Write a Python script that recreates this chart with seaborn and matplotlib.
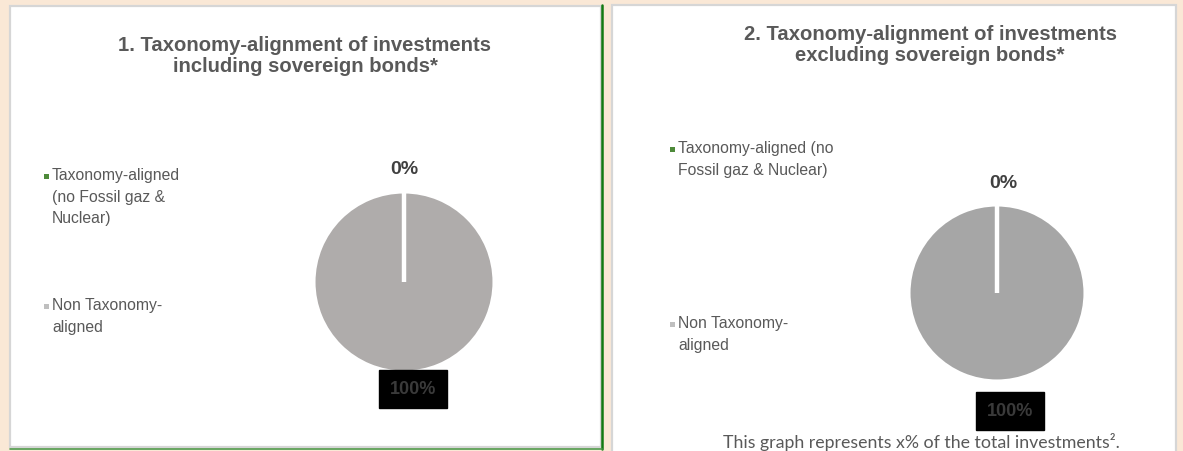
import textwrap
import numpy as np
import matplotlib
matplotlib.use("Agg")
import matplotlib.pyplot as plt
from matplotlib.patches import Rectangle
from matplotlib.lines import Line2D
import seaborn as sns

# Data
categories = ["Taxonomy-aligned (no Fossil gaz & Nuclear)", "Non Taxonomy-aligned"]
incl_sovereign = [0, 100]
excl_sovereign = [0, 100]
titles = ["1. Taxonomy-alignment of investments\nincluding sovereign bonds*",
          "2. Taxonomy-alignment of investments\nexcluding sovereign bonds*"]
footnote = "This graph represents x% of the total investments\u00b2."

sns.set_theme(style="white")
plt.rcParams["font.family"] = ["Liberation Sans", "DejaVu Sans"]

W, H = 1183, 452
BG = "#FAE8D6"
TXT = "#595959"
legend_colors = ["#4E8A3A", "#BFBFBF"]

fig = plt.figure(figsize=(W / 100, H / 100), dpi=100, facecolor=BG)


def fx(x):
    return x / W


def fy(y):
    return 1 - y / H


def panel_box(x0, y0, x1, y1):
    fig.patches.append(Rectangle((fx(x0), fy(y1)), fx(x1 - x0), (y1 - y0) / H,
                                 transform=fig.transFigure, facecolor="white",
                                 edgecolor="#D6D6D6", linewidth=1.6, zorder=-5))


panel_box(10, 7, 601, 448)
panel_box(612, 6, 1176, 470)
# green rule along the first panel
fig.add_artist(Line2D([fx(602), fx(602)], [fy(6), fy(450)], color="#137A13", lw=1.8))
fig.add_artist(Line2D([fx(10), fx(602)], [fy(449.5), fy(449.5)], color="#4E9A4E", lw=1.2))


def draw_panel(values, title, title_xy, pie_box, pie_color, zero_xy, hundred_xy,
               legend_x, legend_ys, wrap_width):
    fig.text(fx(title_xy[0]), fy(title_xy[1]), title, ha="center", va="center",
             fontsize=14.6, fontweight="bold", color=TXT, linespacing=1.12)

    x0, y0, x1, y1 = pie_box
    ax = fig.add_axes([fx(x0), fy(y1), fx(x1 - x0), (y1 - y0) / H])
    start = 90
    ax.pie(values, colors=[legend_colors[0], pie_color], startangle=start,
           counterclock=False, radius=1,
           wedgeprops=dict(edgecolor="white", linewidth=2.2))
    # slice separators (a full-circle wedge has no radial edges of its own)
    bounds = start - 360 * np.cumsum([0] + list(values)) / np.sum(values)
    for ang in np.unique(np.mod(bounds, 360)):
        t = np.deg2rad(ang)
        ax.plot([0, np.cos(t)], [0, np.sin(t)], color="white", lw=3.2,
                solid_capstyle="butt")
    ax.set_xlim(-1.0, 1.0)
    ax.set_ylim(-1.0, 1.0)
    ax.set_aspect("equal")
    ax.axis("off")

    fig.text(fx(zero_xy[0]), fy(zero_xy[1]), f"{values[0]:.0f}%", ha="center",
             va="center", fontsize=14, fontweight="bold", color="#404040")
    fig.text(fx(hundred_xy[0]), fy(hundred_xy[1]), f"{values[1]:.0f}%", ha="center",
             va="center", fontsize=13, fontweight="bold", color="#3A3A3A",
             bbox=dict(boxstyle="square,pad=0.6", facecolor="black", edgecolor="black"))

    for cat, col, ly, width in zip(categories, legend_colors, legend_ys, wrap_width):
        lines = textwrap.wrap(cat, width=width)
        fig.add_artist(Rectangle((fx(legend_x - 8), fy(ly + 12)), fx(5), 5 / H,
                                 transform=fig.transFigure, facecolor=col,
                                 edgecolor="none"))
        fig.text(fx(legend_x), fy(ly), "\n".join(lines), ha="left", va="top",
                 fontsize=11.3, color=TXT, linespacing=1.56)


draw_panel(incl_sovereign, titles[0], (305, 56), (314, 193, 494, 373), "#AFACAB",
           (404, 170), (413, 390), 52, (168, 298), (16, 16))
draw_panel(excl_sovereign, titles[1], (930, 45), (909, 206, 1085, 382), "#A6A6A6",
           (1003, 184), (1010, 412), 678, (141, 316), (21, 14))

fig.text(fx(921), fy(442), footnote, ha="center", va="center", fontsize=12.8,
         color=TXT, family=["Lato", "DejaVu Sans"])

fig.savefig("out.png", dpi=100, facecolor=BG)
